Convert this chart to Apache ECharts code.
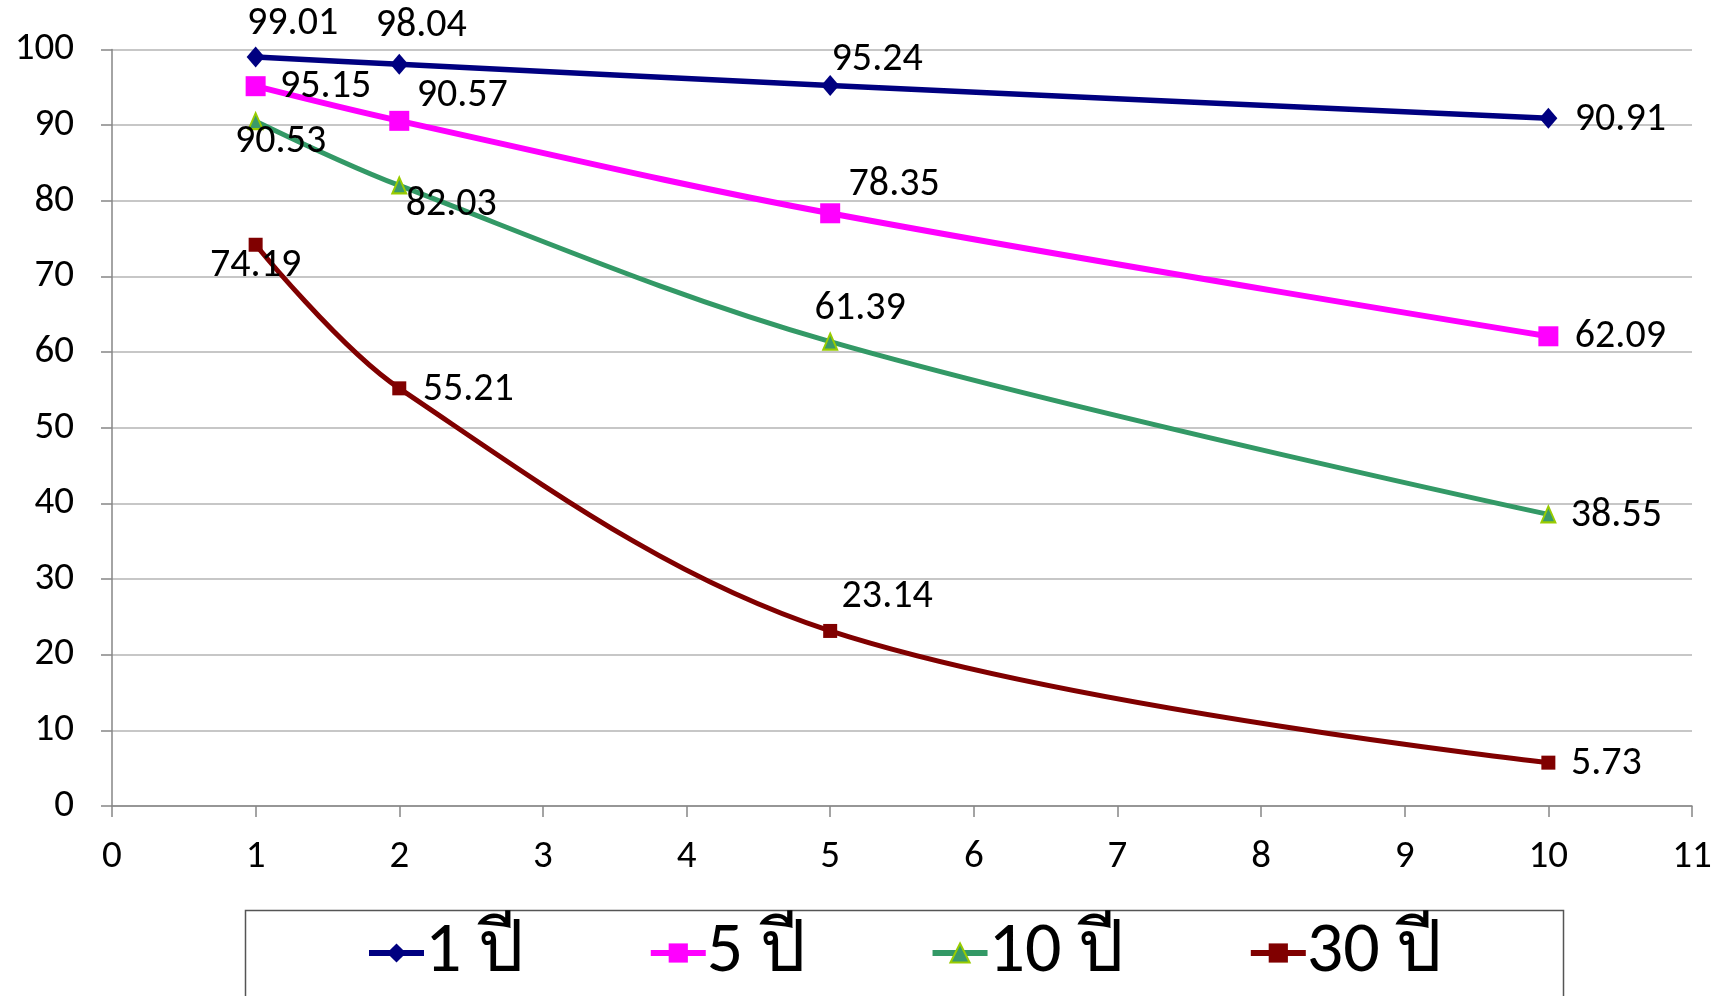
<!DOCTYPE html>
<html>
<head>
<meta charset="utf-8">
<script src="https://cdn.jsdelivr.net/npm/echarts@6/dist/echarts.min.js"></script>
<style>
html,body{margin:0;padding:0;background:#fff;}
#chart{width:1726px;height:996px;}
</style>
</head>
<body>
<div id="chart"></div>
<script>
// ---- data ----
const years = [1, 2, 5, 10];
const seriesNames = ['1 ปี', '5 ปี', '10 ปี', '30 ปี'];
const values1 = [99.01, 98.04, 95.24, 90.91];
const values5 = [95.15, 90.57, 78.35, 62.09];
const values10 = [90.53, 82.03, 61.39, 38.55];
const values30 = [74.19, 55.21, 23.14, 5.73];
const xTicks = [0, 11, 1];   // min, max, interval
const yTicks = [0, 100, 10];

// ---- styles (label offsets in px) ----
const off1 = [[37, -33], [22, -38], [47, -26], [72, 2]];
const off5 = [[70, 1], [63, -25], [64, -28], [72, 1]];
const off10 = [[25, 21], [52, 20], [30, -33], [68, 2]];
const off30 = [[0, 21], [69, 2], [57, -34], [58, 1]];

const FONT = 'Carlito, "Open Sans", "Noto Sans", sans-serif';

function build(vals, offs) {
  return vals.map((v, i) => ({
    value: [years[i], v],
    label: { offset: offs[i] }
  }));
}

function makeSeries(name, vals, offs, color, symbol, symbolSize, lineWidth, itemStyle) {
  return {
    name: name,
    type: 'line',
    smooth: 0.35,
    data: build(vals, offs),
    symbol: symbol,
    symbolSize: symbolSize,
    lineStyle: { color: color, width: lineWidth },
    itemStyle: itemStyle || { color: color },
    label: {
      show: true,
      position: 'inside',
      color: '#000',
      fontFamily: FONT,
      fontSize: 40,
      formatter: p => p.value[1].toFixed(2)
    },
    emphasis: { disabled: true },
    z: 3
  };
}

const chart = echarts.init(document.getElementById('chart'), null, { renderer: 'canvas' });
chart.setOption({
  animation: false,
  backgroundColor: '#fff',
  grid: { left: 112, right: 34, top: 49.5, bottom: 190, containLabel: false },
  xAxis: {
    type: 'value',
    min: xTicks[0], max: xTicks[1], interval: xTicks[2],
    axisLine: { show: true, lineStyle: { color: '#868686', width: 1.5 } },
    axisTick: { show: true, length: 11, lineStyle: { color: '#868686', width: 1.5 } },
    splitLine: { show: false },
    axisLabel: { color: '#000', fontFamily: FONT, fontSize: 39, margin: 32 }
  },
  yAxis: {
    type: 'value',
    min: yTicks[0], max: yTicks[1], interval: yTicks[2],
    axisLine: { show: true, lineStyle: { color: '#868686', width: 1.5 } },
    axisTick: { show: true, inside: false, length: 11, lineStyle: { color: '#868686', width: 1.5 } },
    splitLine: { show: true, lineStyle: { color: '#b4b4b4', width: 1.5 } },
    axisLabel: { color: '#000', fontFamily: FONT, fontSize: 39, margin: 38 }
  },
  legend: {
    show: true,
    left: 361,
    top: 912,
    itemGap: 124,
    itemWidth: 55,
    itemHeight: 24,
    lineStyle: { width: 6 },
    textStyle: { fontFamily: FONT, fontSize: 72, color: '#000', padding: [0, 0, 0, -4] },
    data: seriesNames
  },
  graphic: [{
    type: 'rect',
    shape: { x: 245.5, y: 910.5, width: 1318, height: 120 },
    style: { fill: 'none', stroke: '#555', lineWidth: 1.5 },
    silent: true
  }],
  series: [
    makeSeries(seriesNames[0], values1, off1, '#000080', 'diamond', [18, 21], 5.5),
    makeSeries(seriesNames[1], values5, off5, '#ff00ff', 'rect', 20, 6),
    makeSeries(seriesNames[2], values10, off10, '#339966', 'triangle', [14, 16], 5,
      { color: '#3b9a6a', borderColor: '#99cc00', borderWidth: 2 }),
    makeSeries(seriesNames[3], values30, off30, '#800000', 'rect', 14, 5)
  ]
});
</script>
</body>
</html>
